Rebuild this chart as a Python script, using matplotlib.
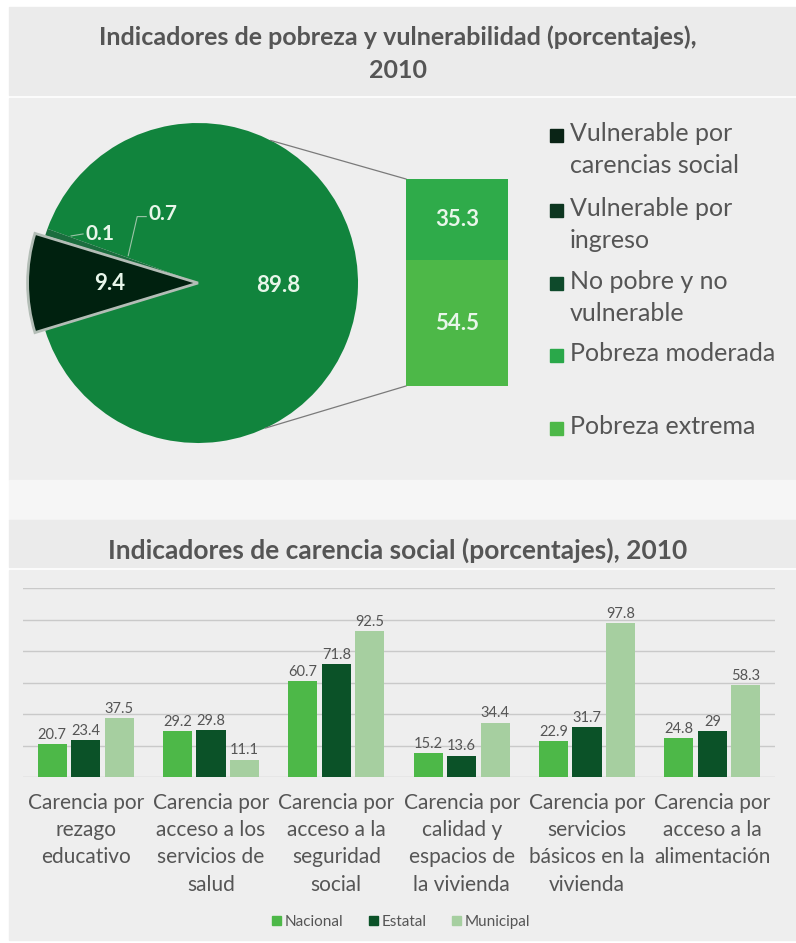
import numpy as np
import matplotlib.pyplot as plt
from matplotlib.patches import Rectangle, Patch
import matplotlib.transforms as mtransforms

plt.rcParams['font.family'] = ['Lato', 'DejaVu Sans']

W, H = 796, 943

# datos del pastel (orden antihorario)
pie_vals = [89.8, 0.7, 0.1, 9.4]
pie_cols = ['#11843d', '#1b6d3e', '#2f7e50', '#00210f']
# barra de desglose (pobreza)
box_vals = [54.5, 35.3]
box_cols = ['#4db848', '#2fab4a']

leg_labels = ['Vulnerable por\ncarencias social', 'Vulnerable por\ningreso',
              'No pobre y no\nvulnerable', 'Pobreza moderada', 'Pobreza extrema']
leg_cols = ['#0a2416', '#0d3620', '#0e4a2b', '#2aa84a', '#4db848']

categorias = ['Carencia por\nrezago\neducativo',
              'Carencia por\nacceso a los\nservicios de\nsalud',
              'Carencia por\nacceso a la\nseguridad\nsocial',
              'Carencia por\ncalidad y\nespacios de\nla vivienda',
              'Carencia por\nservicios\nbásicos en la\nvivienda',
              'Carencia por\nacceso a la\nalimentación']
nacional = [20.7, 29.2, 60.7, 15.2, 22.9, 24.8]
estatal = [23.4, 29.8, 71.8, 13.6, 31.7, 29]
municipal = [37.5, 11.1, 92.5, 34.4, 97.8, 58.3]
series = ['Nacional', 'Estatal', 'Municipal']
serie_cols = ['#4db848', '#0b5228', '#a6cfa0']

gris = '#555555'

fig = plt.figure(figsize=(W/100, H/100), dpi=100)
fig.patch.set_facecolor('white')

ax = fig.add_axes([0, 0, 1, 1])
ax.axis('off')

def Y(y):
    return H - y

# fondos
ax.add_patch(Rectangle((9, Y(95)), W-9, 88, color='#ebebeb', zorder=0))
ax.add_patch(Rectangle((9, Y(480)), W-9, 382, color='#eeeeee', zorder=0))
ax.add_patch(Rectangle((9, Y(520)), W-9, 40, color='#f6f6f6', zorder=0))
ax.add_patch(Rectangle((9, Y(567)), W-9, 47, color='#ebebeb', zorder=0))
ax.add_patch(Rectangle((9, Y(940)), W-9, 370, color='#eeeeee', zorder=0))

fig.text(398/W, 1-37/H, 'Indicadores de pobreza y vulnerabilidad (porcentajes),',
         ha='center', va='center', fontsize=18, fontweight='bold', color=gris)
fig.text(398/W, 1-70/H, '2010', ha='center', va='center', fontsize=18,
         fontweight='bold', color=gris)
fig.text(398/W, 1-550/H, 'Indicadores de carencia social (porcentajes), 2010',
         ha='center', va='center', fontsize=19, fontweight='bold', color=gris)

# pastel
cx, cy, r = 198, Y(283), 160
start = 180 + pie_vals[-1]/100*360/2
wedges, _ = ax.pie(pie_vals, colors=pie_cols, startangle=start, center=(cx, cy),
                   radius=r, frame=True, wedgeprops=dict(linewidth=0))
wedges[3].set_radius(r*1.065)
wedges[3].set_edgecolor('#b3bdb6')
wedges[3].set_linewidth(2)
wedges[3].set_zorder(3)
ax.set_xlim(0, W)
ax.set_ylim(0, H)
ax.set_aspect('auto')
ax.axis('off')

txt_col = '#e8f6ea'
for w, v, d in [(wedges[0], pie_vals[0], 0.5), (wedges[3], pie_vals[3], 0.55)]:
    a = np.deg2rad((w.theta1 + w.theta2)/2)
    ax.text(cx + d*r*np.cos(a), cy + d*r*np.sin(a), f'{v:g}', ha='center', va='center',
            fontsize=16, fontweight='bold', color=txt_col, zorder=5)

# etiquetas pequeñas con guías
a1 = np.deg2rad((wedges[2].theta1 + wedges[2].theta2)/2)
p1 = (cx + 0.83*r*np.cos(a1), cy + 0.83*r*np.sin(a1) + 8)
ax.plot([p1[0], p1[0]+12], [p1[1], p1[1]+2], color='#9cc4a8', lw=0.8, zorder=4)
ax.text(p1[0]+14, p1[1]+2, f'{pie_vals[2]:g}', ha='left', va='center', fontsize=15,
        fontweight='bold', color=txt_col, zorder=5)
a2 = np.deg2rad((wedges[1].theta1 + wedges[1].theta2)/2)
p2 = (cx + 0.46*r*np.cos(a2), cy + 0.46*r*np.sin(a2) + 4)
ax.plot([p2[0], p2[0]+9, p2[0]+18], [p2[1], p2[1]+39, p2[1]+39], color='#9cc4a8',
        lw=0.8, zorder=4)
ax.text(p2[0]+20, p2[1]+42, f'{pie_vals[1]:g}', ha='left', va='center', fontsize=15,
        fontweight='bold', color=txt_col, zorder=5)

# barra de desglose
bx0, bx1, by0, by1 = 406, 508, Y(386), Y(179)
esc = (by1 - by0) / sum(box_vals)
bottom = by0
for v, c in zip(box_vals, box_cols):
    ax.bar((bx0+bx1)/2, v*esc, bottom=bottom, width=bx1-bx0, color=c, zorder=3)
    ax.text((bx0+bx1)/2, bottom + v*esc/2, f'{v:g}', ha='center', va='center',
            fontsize=16, fontweight='bold', color=txt_col, zorder=5)
    bottom += v*esc

for ang, ey in [(63, by1), (-65, by0)]:
    t = np.deg2rad(ang)
    ax.plot([cx + r*np.cos(t), bx0], [cy + r*np.sin(t), ey], color='#7a7a7a', lw=0.9, zorder=2)

# leyenda del pastel
leg_y = [135, 210, 283, 355, 428]
for lab, c, y in zip(leg_labels, leg_cols, leg_y):
    ax.add_patch(Rectangle((550, Y(y)-6.5), 13, 13, color=c, zorder=3))
    ax.text(570, Y(y) + 13, lab, ha='left', va='top', fontsize=18, color=gris,
            linespacing=1.45, zorder=3)

# gráfica de barras
axb = fig.add_axes([23/W, 1-777/H, 752/W, 189/H])
axb.patch.set_alpha(0)
x = np.arange(len(categorias))
off = [-0.267, 0, 0.267]
for vals, o, c, s in zip([nacional, estatal, municipal], off, serie_cols, series):
    axb.bar(x + o, vals, width=0.232, color=c, label=s, zorder=3)
    for xi, v in zip(x + o, vals):
        axb.text(xi, v + 1.5, f'{v:g}', ha='center', va='bottom', fontsize=10.5,
                 color=gris, zorder=4)
axb.set_ylim(0, 120)
axb.set_xlim(-0.5, 5.5)
axb.set_yticks(np.arange(0, 121, 20))
axb.yaxis.grid(True, color='#c9c9c9', lw=1)
axb.set_axisbelow(True)
axb.set_xticks([])
axb.tick_params(left=False, labelleft=False)
for sp in axb.spines.values():
    sp.set_visible(False)
trans = mtransforms.blended_transform_factory(axb.transData, axb.transAxes)
for xi, lab in zip(x, categorias):
    axb.text(xi, -0.085, lab, transform=trans, ha='center', va='top', fontsize=15,
             color=gris, linespacing=1.45)

handles = [Patch(color=c, label=s) for c, s in zip(serie_cols, series)]
leg = fig.legend(handles=handles, loc='center', bbox_to_anchor=(401/W, 1-922/H), ncol=3,
                 frameon=False, fontsize=11, handlelength=0.6, handleheight=0.6,
                 handletextpad=0.2, columnspacing=1.7)
for t in leg.get_texts():
    t.set_color(gris)

fig.savefig('out.png', dpi=100, facecolor='white')
